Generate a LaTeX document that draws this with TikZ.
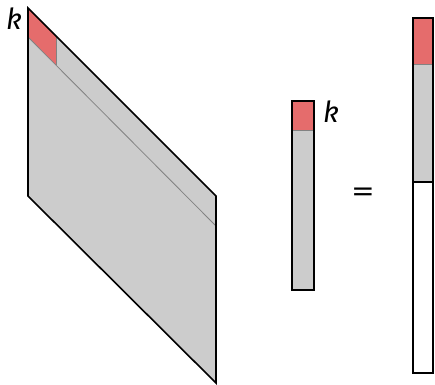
\documentclass[tikz,border=0pt]{standalone}
\usepackage{fontspec}
\usepackage{graphicx}
\setmainfont{Fira Sans}
\definecolor{redfill}{RGB}{229,108,108}
\definecolor{grayfill}{RGB}{204,204,204}
\definecolor{thinline}{RGB}{130,130,130}
\tikzset{
  outline/.style={draw=black,line width=1.6pt,line join=miter},
  inner/.style={draw=thinline,line width=0.8pt},
  lbl/.style={font=\fontsize{29}{32}\selectfont,inner sep=0pt}
}
\begin{document}
\begin{tikzpicture}[x=1pt,y=-1pt]
\useasboundingbox (0,0) rectangle (435,384);
% matrix (parallelogram)
\fill[grayfill] (28,8) -- (216,196) -- (216,383) -- (28,196) -- cycle;
\fill[redfill] (28,8) -- (56,36) -- (56,65) -- (28,37) -- cycle;
\draw[inner] (28,37) -- (216,226);
\draw[inner] (56,36) -- (56,65);
\draw[outline] (28,8) -- (216,196) -- (216,383) -- (28,196) -- cycle;
\node[lbl,anchor=base] (k1) at (14,29) {\itshape k};
% middle vector
\fill[grayfill] (292,130) rectangle (314,290);
\fill[redfill] (292,101) rectangle (314,130);
\draw[inner] (292,130) -- (314,130);
\draw[outline] (292,101) rectangle (314,290);
\node[lbl,anchor=base] (k2) at (331,122) {\itshape k};
% equals
\node[lbl] (eq) at (363,195) {\scalebox{1.6}[1]{=}};
% right vector
\fill[redfill] (413,18) rectangle (433,64);
\fill[grayfill] (413,64) rectangle (433,182);
\draw[inner] (413,64) -- (433,64);
\draw[outline] (413,182) -- (433,182);
\draw[outline] (413,18) rectangle (433,373);
\end{tikzpicture}
\end{document}
